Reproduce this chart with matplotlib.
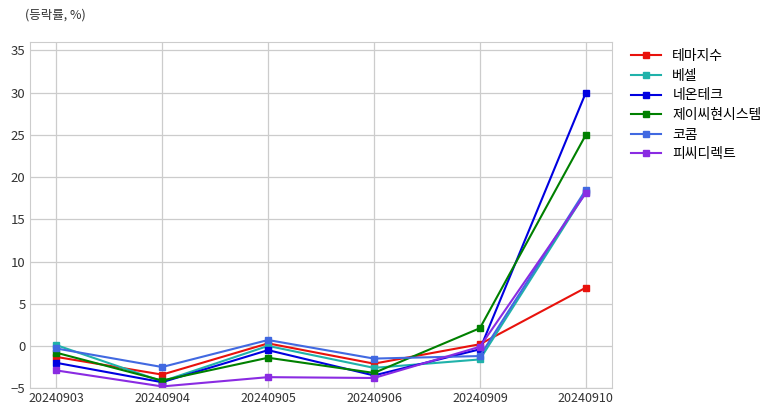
import matplotlib
matplotlib.use('Agg')
import matplotlib.pyplot as plt
import numpy as np

plt.rcParams['font.family'] = ['Noto Sans CJK KR', 'DejaVu Sans']

# 날짜 (x축)
dates = ['20240903', '20240904', '20240905', '20240906', '20240909', '20240910']

# 종목별 등락률 (%)
names = ['테마지수', '베셀', '네온테크', '제이씨현시스템', '코콤', '피씨디렉트']
theme = [-1.3, -3.4, 0.3, -2.1, 0.2, 6.9]
vessel = [0.1, -4.2, 0.0, -2.6, -1.6, 18.2]
neon = [-2.0, -4.3, -0.5, -3.5, -0.4, 30.0]
jc = [-0.8, -4.1, -1.4, -3.2, 2.1, 25.0]
kokom = [-0.3, -2.5, 0.7, -1.5, -1.2, 18.5]
pc = [-2.9, -4.8, -3.7, -3.8, -0.1, 18.1]
series = [theme, vessel, neon, jc, kokom, pc]
colors = ['#e8120c', '#20b2aa', '#0000e0', '#008000', '#4169e1', '#8a2be2']

fig = plt.figure(figsize=(7.82, 4.16), dpi=100)
ax = fig.add_axes([0.038, 0.067, 0.745, 0.832])

x = np.arange(len(dates))
for name, vals, c in zip(names, series, colors):
    ax.plot(x, vals, color=c, marker='s', markersize=4, linewidth=1.5, label=name)

ax.set_xticks(x)
ax.set_xticklabels(dates, fontsize=9, color='#333333')
ax.set_yticks(np.arange(-5, 36, 5))
ax.tick_params(axis='y', labelsize=9.5, colors='#333333')
ax.tick_params(length=0, pad=3)
ax.set_xlim(-0.25, 5.25)
ax.set_ylim(-5, 36)
ax.grid(True, color='#cccccc', linewidth=0.9)
ax.set_axisbelow(True)
for s in ax.spines.values():
    s.set_color('#cccccc')

fig.text(0.032, 0.955, '(등락률, %)', fontsize=9, color='#333333')

ax.legend(loc='upper left', bbox_to_anchor=(1.01, 1.015), frameon=False,
          fontsize=10, handlelength=2.2, labelspacing=0.4)

fig.savefig('out.png', dpi=100)
